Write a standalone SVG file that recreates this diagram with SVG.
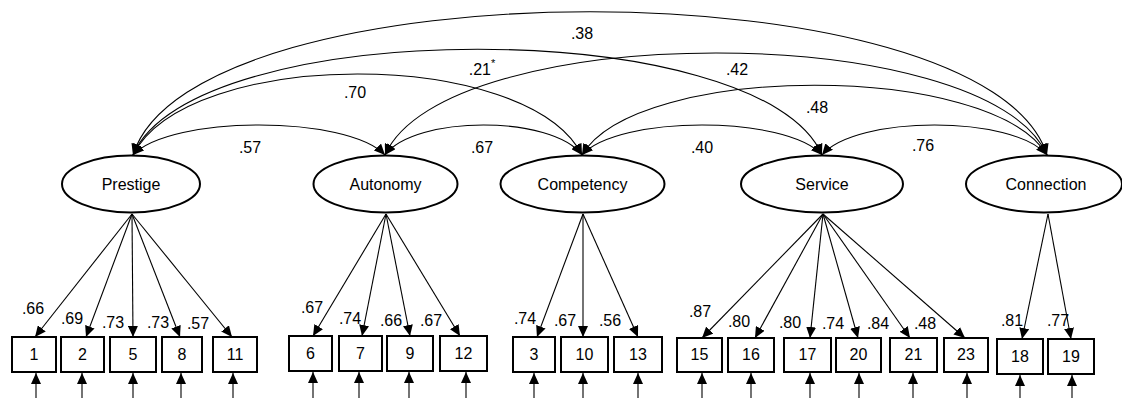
<svg xmlns="http://www.w3.org/2000/svg" width="1122" height="398" viewBox="0 0 1122 398">
<style>
text{font-family:"Liberation Sans",Arial,sans-serif;font-size:16px;fill:#000;text-anchor:middle}
.f ellipse{fill:#fff;stroke:#000;stroke-width:2}
.b rect{fill:#fff;stroke:#000;stroke-width:2}
.c path,.c line{fill:none;stroke:#000;stroke-width:1.1}
.arc{marker-start:url(#ah);marker-end:url(#ah)}
.ld{marker-end:url(#ah)}
</style>
<defs>
<marker id="ah" markerUnits="userSpaceOnUse" markerWidth="12" markerHeight="10" refX="11" refY="5" orient="auto-start-reverse" viewBox="0 0 12 10">
<path d="M0,0 L11,5 L0,10 z" fill="#000"/>
</marker>
</defs>
<g id="connectors" class="c">
<path class="arc" d="M133,155 C171,115 347,115 385,155"/>
<path class="arc" d="M385,155 C415,115 552,115 582,155"/>
<path class="arc" d="M582,155 C618,115 786,115 822,155"/>
<path class="arc" d="M822,155 C856,115 1013,115 1047,155"/>
<path class="arc" d="M133,155 C188,47 527,47 582,155"/>
<path class="arc" d="M582,155 C637,62 992,62 1047,155"/>
<path class="arc" d="M133,155 C193,14 762,14 822,155"/>
<path class="arc" d="M385,155 C445,19 987,19 1047,155"/>
<path class="arc" d="M133,155 C193,-36 987,-36 1047,155"/>
<line class="ld" x1="132" y1="214" x2="35" y2="337"/>
<line class="ld" x1="132" y1="214" x2="86" y2="337"/>
<line class="ld" x1="132" y1="214" x2="133" y2="337"/>
<line class="ld" x1="132" y1="214" x2="180" y2="337"/>
<line class="ld" x1="132" y1="214" x2="232" y2="337"/>
<line class="ld" x1="386" y1="214" x2="313" y2="336"/>
<line class="ld" x1="386" y1="214" x2="362" y2="336"/>
<line class="ld" x1="386" y1="214" x2="410" y2="336"/>
<line class="ld" x1="386" y1="214" x2="460" y2="336"/>
<line class="ld" x1="583" y1="214" x2="537" y2="337"/>
<line class="ld" x1="583" y1="214" x2="583" y2="337"/>
<line class="ld" x1="583" y1="214" x2="638" y2="337"/>
<line class="ld" x1="823" y1="214" x2="702" y2="338"/>
<line class="ld" x1="823" y1="214" x2="755" y2="338"/>
<line class="ld" x1="823" y1="214" x2="810" y2="338"/>
<line class="ld" x1="823" y1="214" x2="858" y2="338"/>
<line class="ld" x1="823" y1="214" x2="910" y2="338"/>
<line class="ld" x1="823" y1="214" x2="965" y2="338"/>
<line class="ld" x1="1048" y1="214" x2="1022" y2="339"/>
<line class="ld" x1="1048" y1="214" x2="1071" y2="339"/>
<line class="ld" x1="36" y1="398" x2="36" y2="373"/>
<line class="ld" x1="82" y1="398" x2="82" y2="373"/>
<line class="ld" x1="133" y1="398" x2="133" y2="373"/>
<line class="ld" x1="181" y1="398" x2="181" y2="373"/>
<line class="ld" x1="233" y1="398" x2="233" y2="373"/>
<line class="ld" x1="313" y1="398" x2="313" y2="372"/>
<line class="ld" x1="359" y1="398" x2="359" y2="372"/>
<line class="ld" x1="409" y1="398" x2="409" y2="372"/>
<line class="ld" x1="466" y1="398" x2="466" y2="372"/>
<line class="ld" x1="534" y1="398" x2="534" y2="373"/>
<line class="ld" x1="583" y1="398" x2="583" y2="373"/>
<line class="ld" x1="638" y1="398" x2="638" y2="373"/>
<line class="ld" x1="702" y1="398" x2="702" y2="373"/>
<line class="ld" x1="751" y1="398" x2="751" y2="373"/>
<line class="ld" x1="810" y1="398" x2="810" y2="373"/>
<line class="ld" x1="859" y1="398" x2="859" y2="373"/>
<line class="ld" x1="913" y1="398" x2="913" y2="373"/>
<line class="ld" x1="967" y1="398" x2="967" y2="373"/>
<line class="ld" x1="1020" y1="398" x2="1020" y2="375"/>
<line class="ld" x1="1072" y1="398" x2="1072" y2="375"/>
</g>
<g id="correlation-labels">
<text x="582" y="39">.38</text>
<text x="482" y="75">.21<tspan font-size="11" dy="-8">*</tspan></text>
<text x="737" y="75">.42</text>
<text x="355" y="98">.70</text>
<text x="817" y="113">.48</text>
<text x="250" y="153">.57</text>
<text x="482" y="153">.67</text>
<text x="702" y="153">.40</text>
<text x="923" y="151">.76</text>
</g>
<g id="Prestige" class="f"><ellipse cx="131" cy="184" rx="69" ry="28.5"/><text x="131" y="190">Prestige</text></g>
<g id="Autonomy" class="f"><ellipse cx="385.5" cy="184" rx="72" ry="28.5"/><text x="385.5" y="190">Autonomy</text></g>
<g id="Competency" class="f"><ellipse cx="582.5" cy="184" rx="82" ry="28.5"/><text x="582.5" y="190">Competency</text></g>
<g id="Service" class="f"><ellipse cx="822" cy="184" rx="81" ry="28.5"/><text x="822" y="190">Service</text></g>
<g id="Connection" class="f"><ellipse cx="1044" cy="184" rx="78" ry="28.5"/><text x="1046" y="190">Connection</text></g>
<g id="loading-labels">
<text x="33" y="314">.66</text>
<text x="72" y="324">.69</text>
<text x="113" y="328">.73</text>
<text x="158" y="328">.73</text>
<text x="198" y="329">.57</text>
<text x="312" y="313">.67</text>
<text x="350" y="324">.74</text>
<text x="391" y="326">.66</text>
<text x="431" y="326">.67</text>
<text x="525" y="324">.74</text>
<text x="565" y="326">.67</text>
<text x="610" y="326">.56</text>
<text x="700" y="317">.87</text>
<text x="739" y="327">.80</text>
<text x="790" y="328">.80</text>
<text x="833" y="329">.74</text>
<text x="878" y="329">.84</text>
<text x="925" y="329">.48</text>
<text x="1012" y="326">.81</text>
<text x="1058" y="326">.77</text>
</g>
<g id="item1" class="b"><rect x="12" y="337" width="44" height="35"/><text x="34" y="360">1</text></g>
<g id="item2" class="b"><rect x="61" y="337" width="43" height="35"/><text x="82.5" y="360">2</text></g>
<g id="item5" class="b"><rect x="110" y="337" width="46" height="35"/><text x="133" y="360">5</text></g>
<g id="item8" class="b"><rect x="162" y="337" width="40" height="35"/><text x="182" y="360">8</text></g>
<g id="item11" class="b"><rect x="213" y="337" width="44" height="35"/><text x="235" y="360">11</text></g>
<g id="item6" class="b"><rect x="289" y="336" width="43" height="35"/><text x="310.5" y="359">6</text></g>
<g id="item7" class="b"><rect x="339" y="336" width="43" height="35"/><text x="360.5" y="359">7</text></g>
<g id="item9" class="b"><rect x="387" y="336" width="46" height="35"/><text x="410" y="359">9</text></g>
<g id="item12" class="b"><rect x="440" y="336" width="47" height="35"/><text x="463.5" y="359">12</text></g>
<g id="item3" class="b"><rect x="513" y="337" width="42" height="35"/><text x="534" y="360">3</text></g>
<g id="item10" class="b"><rect x="561" y="337" width="47" height="35"/><text x="584.5" y="360">10</text></g>
<g id="item13" class="b"><rect x="614" y="337" width="48" height="35"/><text x="638" y="360">13</text></g>
<g id="item15" class="b"><rect x="677" y="338" width="45" height="34"/><text x="699.5" y="360">15</text></g>
<g id="item16" class="b"><rect x="728" y="338" width="46" height="34"/><text x="751" y="360">16</text></g>
<g id="item17" class="b"><rect x="784" y="338" width="47" height="34"/><text x="807.5" y="360">17</text></g>
<g id="item20" class="b"><rect x="836" y="338" width="45" height="34"/><text x="858.5" y="360">20</text></g>
<g id="item21" class="b"><rect x="890" y="338" width="47" height="34"/><text x="913.5" y="360">21</text></g>
<g id="item23" class="b"><rect x="944" y="338" width="44" height="34"/><text x="966" y="360">23</text></g>
<g id="item18" class="b"><rect x="997" y="339" width="46" height="35"/><text x="1020" y="362">18</text></g>
<g id="item19" class="b"><rect x="1048" y="339" width="46" height="35"/><text x="1071" y="362">19</text></g>
</svg>
